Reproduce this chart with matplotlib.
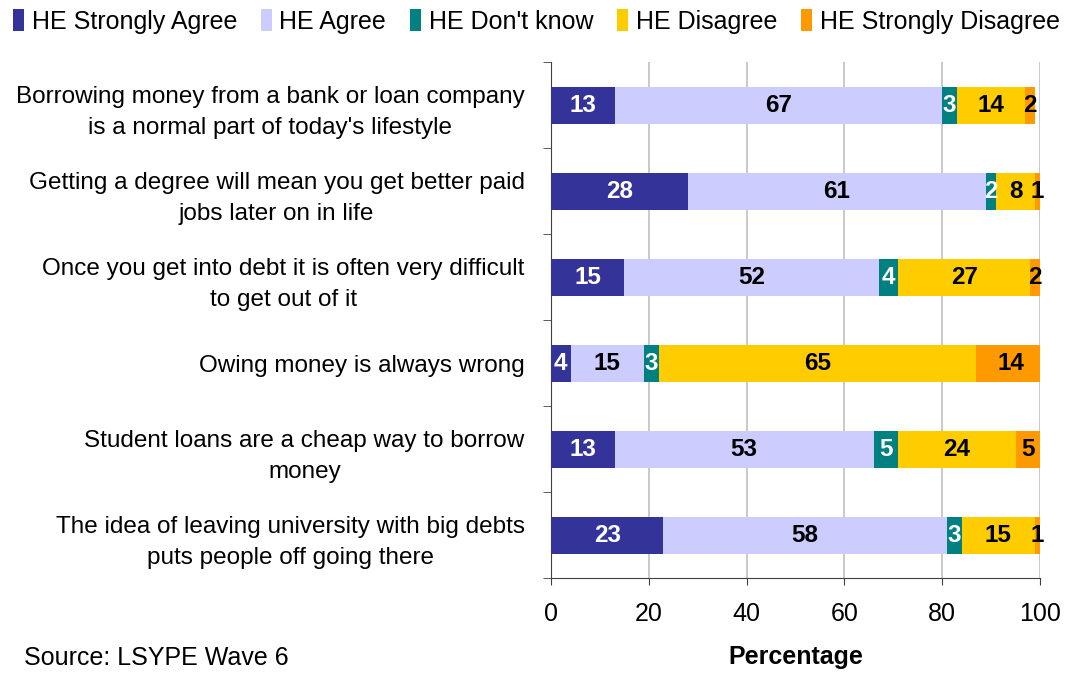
import numpy as np
import matplotlib
matplotlib.use("Agg")
from matplotlib import pyplot as plt

plt.rcParams['font.family'] = ['Liberation Sans', 'DejaVu Sans']

statements = [
    "Borrowing money from a bank or loan company\nis a normal part of today's lifestyle",
    "Getting a degree will mean you get better paid\njobs later on in life",
    "Once you get into debt it is often very difficult\nto get out of it",
    "Owing money is always wrong",
    "Student loans are a cheap way to borrow\nmoney",
    "The idea of leaving university with big debts\nputs people off going there",
]
series_names = ["HE Strongly Agree", "HE Agree", "HE Don't know",
                "HE Disagree", "HE Strongly Disagree"]
strongly_agree = [13, 28, 15, 4, 13, 23]
agree = [67, 61, 52, 15, 53, 58]
dont_know = [3, 2, 4, 3, 5, 3]
disagree = [14, 8, 27, 65, 24, 15]
strongly_disagree = [2, 1, 2, 14, 5, 1]

colours = ["#333399", "#CCCCFF", "#008080", "#FFCC00", "#FF9900"]
text_colours = ["white", "black", "white", "black", "black"]

fig = plt.figure(figsize=(10.77, 6.75), dpi=100)
ax = fig.add_axes([0.5116, 0.1437, 0.454, 0.764])

y = np.arange(len(statements))
left = np.zeros(len(statements))
bars = []
for name, vals, col, tcol in zip(series_names,
                                 [strongly_agree, agree, dont_know, disagree, strongly_disagree],
                                 colours, text_colours):
    vals = np.array(vals, dtype=float)
    b = ax.barh(y, vals, left=left, height=0.43, color=col, label=name, zorder=3)
    bars.append(b)
    for yi, (l, v) in enumerate(zip(left, vals)):
        ax.text(l + v / 2, yi, "%d" % v, ha="center", va="center", color=tcol,
                fontsize=17.5, fontweight="bold", zorder=4)
    left += vals

ax.set_xlim(0, 100)
ax.set_ylim(len(statements) - 0.5, -0.5)
ax.set_xticks([0, 20, 40, 60, 80, 100])
ax.tick_params(axis="x", labelsize=18, length=5, color="#404040", pad=12)
ax.set_yticks(y)
ax.set_yticklabels(statements, fontsize=17.5, ha="right",
                   multialignment="center", linespacing=1.55)
ax.set_yticks(np.arange(len(statements) + 1) - 0.5, minor=True)
ax.tick_params(axis="y", which="major", length=0, pad=19)
ax.tick_params(axis="y", which="minor", length=6, color="#404040")
ax.xaxis.grid(True, color="#c0c0c0", linewidth=1.2, zorder=0)
ax.set_axisbelow(True)
for s in ["top", "right"]:
    ax.spines[s].set_visible(False)
for s in ["left", "bottom"]:
    ax.spines[s].set_color("#404040")
ax.set_xlabel("Percentage", fontsize=18, fontweight="bold", labelpad=14)

fig.legend(handles=bars, labels=series_names, loc="upper left",
           bbox_to_anchor=(-0.009, 1.02), ncol=5, frameon=False, fontsize=18,
           handlelength=0.45, handleheight=1.0, handletextpad=0.3,
           columnspacing=0.95)

fig.text(0.022, 0.015, "Source: LSYPE Wave 6", fontsize=18)

fig.savefig("out.png", dpi=100)
